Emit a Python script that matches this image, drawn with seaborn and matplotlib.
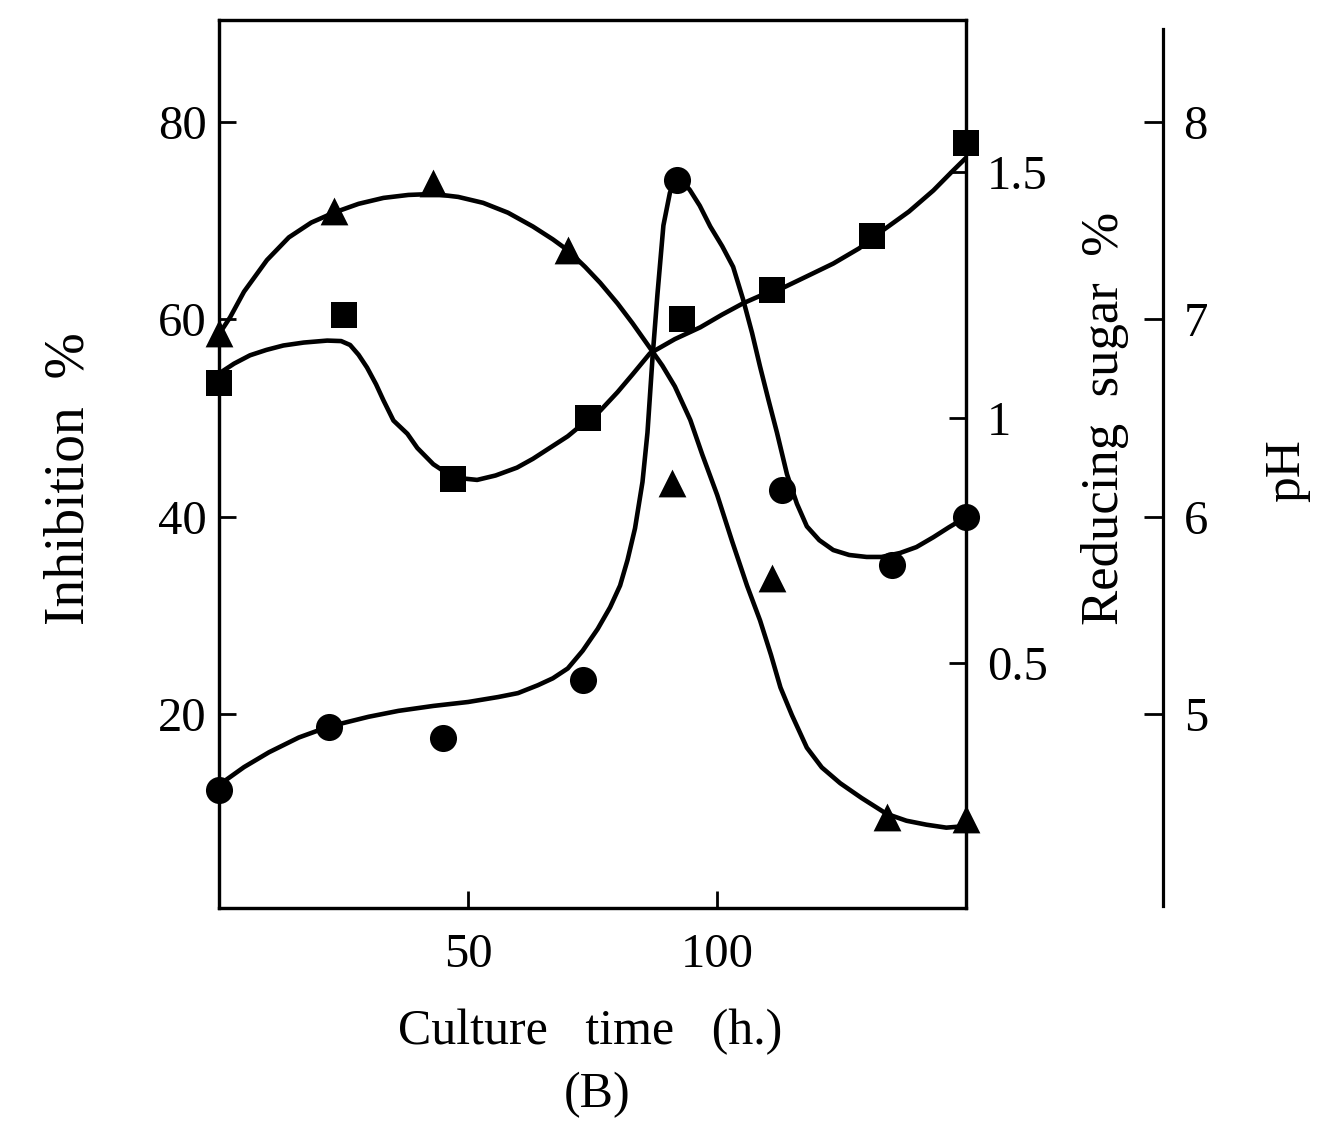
import numpy as np
import pandas as pd
import matplotlib.pyplot as plt
import seaborn as sns

# measured points (culture time in h)
circle_t = [0, 22, 45, 73, 92, 113, 135, 150]
inhibition = [12.3, 18.7, 17.6, 23.4, 74.1, 42.7, 35.1, 39.9]

square_t = [0, 25, 47, 74, 93, 111, 131, 150]
sugar = [1.07, 1.21, 0.875, 1.0, 1.2, 1.26, 1.37, 1.56]

triangle_t = [0, 23, 43, 70, 91, 111, 134, 150]
ph = [6.93, 7.55, 7.69, 7.35, 6.17, 5.69, 4.48, 4.47]

# hand-drawn curves
circle_curve_t = [0, 5, 10, 16, 22, 30, 36, 43, 50, 56, 60, 64, 67, 70, 73, 76, 78.5, 80.5,
                  82, 83.5, 85, 86, 87, 88, 89.2, 90.5, 91.6, 93, 94.5, 96.5, 98.6, 101,
                  103.2, 105.2, 107, 108.6, 110.3, 112, 114, 116, 118, 120.5, 123.3, 126.5,
                  130, 133, 136.7, 140, 143.4, 146.5, 149.5]
circle_curve = [12.8, 14.6, 16.1, 17.6, 18.7, 19.7, 20.3, 20.8, 21.2, 21.7, 22.1, 22.9, 23.6,
                24.6, 26.4, 28.6, 30.8, 33.0, 35.6, 38.8, 43.5, 48.5, 56.0, 62.5, 69.5, 72.8,
                74.1, 74.0, 73.1, 71.5, 69.4, 67.4, 65.3, 62.0, 58.6, 55.2, 51.8, 48.5, 44.3,
                41.3, 39.0, 37.6, 36.6, 36.1, 35.9, 35.9, 36.3, 36.9, 37.9, 38.9, 39.8]

square_curve_t = [0, 3, 6.2, 9.5, 12.9, 17, 21.7, 24.5, 26.3, 28, 29.7, 31.5, 33, 35, 37.8,
                  39.8, 43, 47, 51.8, 55.5, 59.8, 63, 66.5, 70, 73.1, 76.5, 80, 83, 86.5, 91.5,
                  96.6, 101, 105.2, 109, 113.3, 118, 123.3, 128.5, 133.3, 138.5, 143.4, 147,
                  150]
square_curve = [1.09, 1.11, 1.127, 1.138, 1.147, 1.153, 1.157, 1.156, 1.148, 1.128, 1.102,
                1.068, 1.035, 0.994, 0.967, 0.938, 0.905, 0.878, 0.873, 0.882, 0.898, 0.916,
                0.939, 0.962, 0.988, 1.014, 1.052, 1.088, 1.131, 1.16, 1.184, 1.21, 1.233,
                1.25, 1.265, 1.288, 1.314, 1.345, 1.382, 1.42, 1.463, 1.5, 1.53]

triangle_curve_t = [0, 2.2, 5, 9.6, 14, 18.5, 23, 28, 33, 38, 43, 48, 53, 58, 63, 67, 70,
                    73.5, 76.5, 80, 83, 86.5, 89, 91.5, 94.6, 97, 100, 103, 106, 108.6,
                    110.8, 112.7, 115, 118, 121, 124.7, 129, 134, 138, 142, 146, 148.5, 150]
triangle_curve = [58.5, 60.2, 62.8, 66.0, 68.3, 69.8, 70.8, 71.7, 72.3, 72.6, 72.7, 72.4, 71.8,
                  70.8, 69.4, 68.1, 67.0, 65.3, 63.7, 61.6, 59.6, 57.1, 55.3, 53.2, 49.8, 46.3,
                  42.2, 37.5, 33.0, 29.5, 26.0, 22.7, 19.9, 16.6, 14.6, 13.0, 11.5, 9.9, 9.2,
                  8.8, 8.5, 8.6, 9.4]

sns.set_theme(style="ticks")
plt.rcParams['font.family'] = ['Liberation Serif', 'DejaVu Serif']
plt.rcParams.update({
    'text.color': 'black', 'axes.labelcolor': 'black',
    'xtick.color': 'black', 'ytick.color': 'black',
    'xtick.direction': 'in', 'ytick.direction': 'in',
})

fig = plt.figure(figsize=(13.2, 11.24), dpi=100)
ax = fig.add_axes([0.166, 0.192, 0.566, 0.790])
ax_sugar = ax.twinx()
ax_ph = ax.twinx()

fs = 35
lw = 3.3
col = 'black'

# inhibition (circles) on left axis
sns.lineplot(x=circle_curve_t, y=circle_curve, ax=ax, color=col, lw=lw, sort=False,
             estimator=None)
sns.scatterplot(x=circle_t, y=inhibition, ax=ax, color=col, marker='o', s=380,
                edgecolor=col, linewidth=0, zorder=5, clip_on=False)

# pH curve drawn on the same vertical scale as inhibition (pH = 4 + inh/20)
sns.lineplot(x=triangle_curve_t, y=[4 + v / 20 for v in triangle_curve], ax=ax_ph, color=col,
             lw=lw, sort=False, estimator=None)
sns.scatterplot(x=triangle_t, y=ph, ax=ax_ph, color=col, marker='^', s=400,
                edgecolor=col, linewidth=0, zorder=5, clip_on=False)

# reducing sugar (squares)
sns.lineplot(x=square_curve_t, y=square_curve, ax=ax_sugar, color=col, lw=lw, sort=False,
             estimator=None)
sns.scatterplot(x=square_t, y=sugar, ax=ax_sugar, color=col, marker='s', s=340,
                edgecolor=col, linewidth=0, zorder=5, clip_on=False)

ax.set_xlim(0, 150)
ax.set_ylim(0.3, 90.3)
ax_sugar.set_ylim(0, 1.81)
ax_ph.set_ylim(4.017, 8.515)

ax.set_xticks([50, 100])
ax.set_yticks([20, 40, 60, 80])
ax_sugar.set_yticks([0.5, 1, 1.5])
ax_sugar.set_yticklabels(['0.5', '1', '1.5'])
ax_ph.set_yticks([5, 6, 7, 8])

for a in (ax, ax_sugar, ax_ph):
    for s in a.spines.values():
        s.set_linewidth(2.3)
        s.set_color(col)

ax.tick_params(axis='x', direction='in', length=12, width=2, labelsize=fs, pad=18)
ax.tick_params(axis='y', direction='in', length=12, width=2, labelsize=fs, pad=9,
               left=True, right=False)
ax_sugar.tick_params(axis='y', direction='in', length=12, width=2, labelsize=fs, pad=15)

ax_ph.spines['left'].set_visible(False)
ax_ph.spines['top'].set_visible(False)
ax_ph.spines['bottom'].set_visible(False)
ax_ph.spines['right'].set_position(('axes', 1.263))
ax_ph.spines['right'].set_bounds(4.03, 8.47)
ax_ph.tick_params(axis='y', direction='in', length=14, width=2, labelsize=fs, pad=15)

ax.set_xlabel('Culture   time   (h.)', fontsize=fs + 1)
ax.xaxis.set_label_coords(0.497, -0.113)
ax.set_ylabel('Inhibition  %', fontsize=fs + 5)
ax.yaxis.set_label_coords(-0.165, 0.484)
ax_sugar.set_ylabel('Reducing  sugar  %', fontsize=fs + 3)
ax_sugar.yaxis.set_label_coords(1.153, 0.552)
ax_ph.set_ylabel('pH', fontsize=fs + 2)
ax_ph.yaxis.set_label_coords(1.398, 0.493)

fig.text(0.452, 0.026, '(B)', fontsize=fs + 1, ha='center', va='center')

fig.savefig('out.png', dpi=100, facecolor='white')
